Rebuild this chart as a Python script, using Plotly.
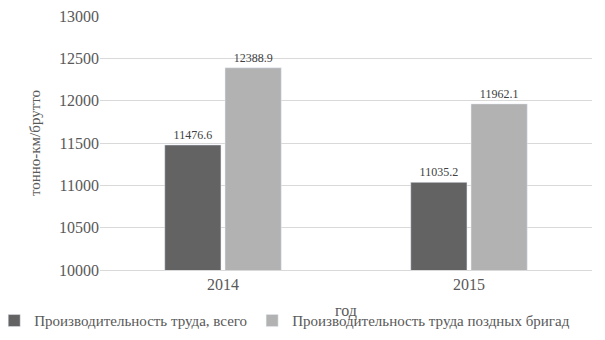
import plotly.graph_objects as go

years = ["2014", "2015"]
total = [11476.6, 11035.2]
late = [12388.9, 11962.1]
names = ["Производительность труда, всего", "Производительность труда поздных бригад"]

font = "Liberation Serif, Times New Roman, serif"
fig = go.Figure()
fig.add_bar(x=years, y=total, name=names[0], marker_color="#636363",
            text=[f"{v:.1f}" for v in total], textposition="outside",
            textfont=dict(size=12, color="#404040", family=font), cliponaxis=False)
fig.add_bar(x=years, y=late, name=names[1], marker_color="#b2b2b2",
            text=[f"{v:.1f}" for v in late], textposition="outside",
            textfont=dict(size=12, color="#404040", family=font), cliponaxis=False)

fig.update_layout(
    width=605, height=340,
    margin=dict(l=100, r=13, t=16, b=70, autoexpand=False),
    paper_bgcolor="white", plot_bgcolor="white",
    barmode="group", bargap=0.51, bargroupgap=0.067,
    font=dict(family=font, size=16, color="#595959"),
    showlegend=True,
    legend=dict(orientation="h", x=-0.215, xanchor="left", y=-0.2, yanchor="middle",
                font=dict(size=15, color="#595959", family=font), itemwidth=30,
                tracegroupgap=0, entrywidth=0),
    xaxis=dict(title=dict(text="год", standoff=12, font=dict(size=16, family=font)),
               tickfont=dict(family=font, size=16, color="#595959"),
               showgrid=False, showline=True, linecolor="#d9d9d9", ticks=""),
    yaxis=dict(title=dict(text="тонно-км/брутто", standoff=14, font=dict(size=15, family=font)),
               tickfont=dict(family=font, size=16, color="#595959"),
               range=[10000, 13000], dtick=500, showgrid=True, gridcolor="#d9d9d9",
               zeroline=False, ticks="", tickformat=".0f"),
)
fig.write_html("out.html")
